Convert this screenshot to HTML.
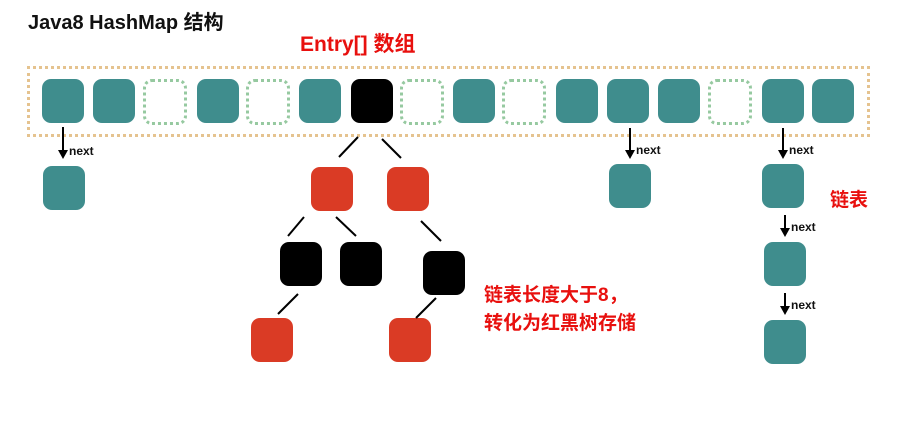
<!DOCTYPE html>
<html><head><meta charset="utf-8"><style>
body{margin:0;background:#fff;width:902px;height:421px;overflow:hidden;position:relative;font-family:"Liberation Sans","Noto Sans CJK SC",sans-serif}
.n{position:absolute;width:42px;height:44px;border-radius:9px}
.t{background:#3f8d8d}.k{background:#000}.r{background:#da3b25}
.e{position:absolute;width:38px;height:40px;border:3px dotted #96c9a0;border-radius:9px}
.tx{position:absolute;white-space:nowrap}
</style></head><body>
<div class="tx" style="left:28px;top:6px;font-size:20px;font-weight:bold;color:#111">Java8 HashMap 结构</div>
<div class="tx" style="left:300px;top:28px;font-size:21px;font-weight:bold;color:#e8100e">Entry[] 数组</div>
<div style="position:absolute;left:27px;top:66px;width:837px;height:65px;border:3px dotted #e5c38f"></div>
<div class="n t" style="left:42px;top:79px"></div>
<div class="n t" style="left:93px;top:79px"></div>
<div class="e" style="left:143px;top:79px"></div>
<div class="n t" style="left:197px;top:79px"></div>
<div class="e" style="left:246px;top:79px"></div>
<div class="n t" style="left:299px;top:79px"></div>
<div class="n k" style="left:351px;top:79px"></div>
<div class="e" style="left:400px;top:79px"></div>
<div class="n t" style="left:453px;top:79px"></div>
<div class="e" style="left:502px;top:79px"></div>
<div class="n t" style="left:556px;top:79px"></div>
<div class="n t" style="left:607px;top:79px"></div>
<div class="n t" style="left:658px;top:79px"></div>
<div class="e" style="left:708px;top:79px"></div>
<div class="n t" style="left:762px;top:79px"></div>
<div class="n t" style="left:812px;top:79px"></div>

<div class="n t" style="left:43px;top:166px"></div>
<div class="n t" style="left:609px;top:164px"></div>
<div class="n t" style="left:762px;top:164px"></div>
<div class="n t" style="left:764px;top:242px"></div>
<div class="n t" style="left:764px;top:320px"></div>

<div class="n r" style="left:311px;top:167px"></div>
<div class="n r" style="left:387px;top:167px"></div>
<div class="n k" style="left:280px;top:242px"></div>
<div class="n k" style="left:340px;top:242px"></div>
<div class="n k" style="left:423px;top:251px"></div>
<div class="n r" style="left:251px;top:318px"></div>
<div class="n r" style="left:389px;top:318px"></div>

<svg style="position:absolute;left:0;top:0" width="902" height="421">
<g stroke="#000" stroke-width="2">
<line x1="358" y1="137" x2="339" y2="157"/><line x1="382" y1="139" x2="401" y2="158"/>
<line x1="304" y1="217" x2="288" y2="236"/><line x1="336" y1="217" x2="356" y2="236"/>
<line x1="421" y1="221" x2="441" y2="241"/><line x1="298" y1="294" x2="278" y2="314"/>
<line x1="436" y1="298" x2="416" y2="318"/>
<line x1="63" y1="127" x2="63" y2="152"/><line x1="630" y1="128" x2="630" y2="152"/>
<line x1="783" y1="128" x2="783" y2="152"/><line x1="785" y1="215" x2="785" y2="230"/>
<line x1="785" y1="293" x2="785" y2="308"/>
</g>
<g fill="#000">
<polygon points="58,150 68,150 63,159"/><polygon points="625,150 635,150 630,159"/>
<polygon points="778,150 788,150 783,159"/><polygon points="780,228 790,228 785,237"/>
<polygon points="780,306 790,306 785,315"/>
</g>
<g font-family="Liberation Sans" font-weight="bold" font-size="12" fill="#111">
<text x="69" y="155">next</text><text x="636" y="154">next</text><text x="789" y="154">next</text>
<text x="791" y="231">next</text><text x="791" y="309">next</text>
</g>
</svg>
<div class="tx" style="left:830px;top:185px;font-size:19px;font-weight:bold;color:#e8100e">链表</div>
<div class="tx" style="left:484px;top:282px;font-size:19px;font-weight:bold;color:#e8100e;line-height:28px">链表长度大于8，<br>转化为红黑树存储</div>
</body></html>
